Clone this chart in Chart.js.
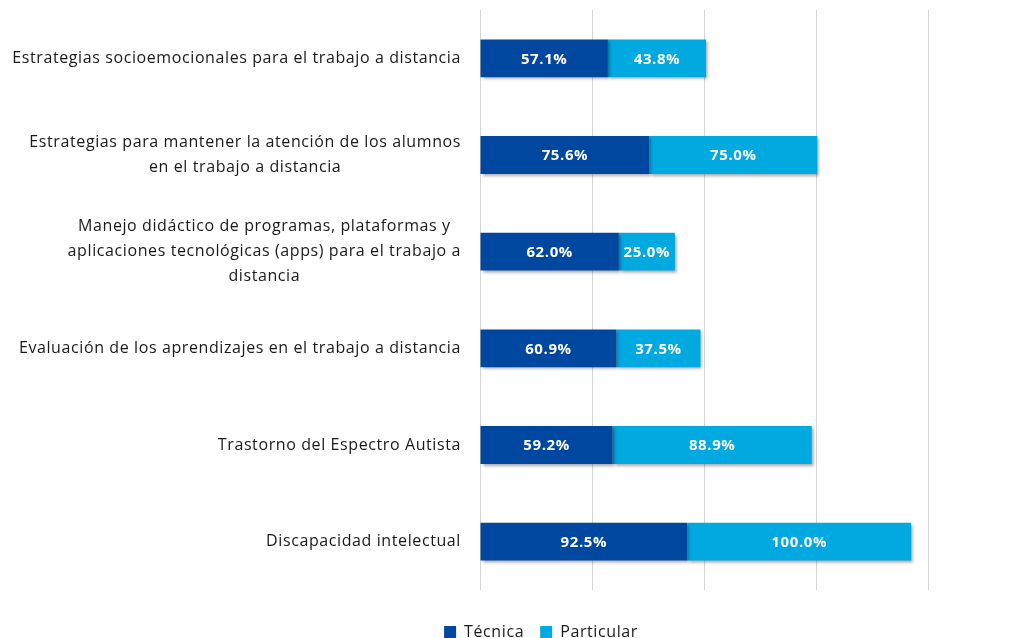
<!DOCTYPE html>
<html>
<head>
<meta charset="utf-8">
<script src="https://cdn.jsdelivr.net/npm/chart.js@4/dist/chart.umd.min.js"></script>
<style>
  body { margin: 0; background: #fff; }
  #wrap { width: 1031px; height: 638px; position: relative; }
</style>
</head>
<body>
<div id="wrap"><canvas id="myChart"></canvas></div>
<script>
// categories (multi-line labels)
var categories = [
    ['Estrategias socioemocionales para el trabajo a distancia'],
    ['Estrategias para mantener la atención de los alumnos', 'en el trabajo a distancia'],
    ['Manejo didáctico de programas, plataformas y', 'aplicaciones tecnológicas (apps) para el trabajo a', 'distancia'],
    ['Evaluación de los aprendizajes en el trabajo a distancia'],
    ['Trastorno del Espectro Autista'],
    ['Discapacidad intelectual']
];
var tecnica = [57.1, 75.6, 62.0, 60.9, 59.2, 92.5];
var particular = [43.8, 75.0, 25.0, 37.5, 88.9, 100.0];

var FONT = '"Open Sans", sans-serif';

// wider letter spacing for all canvas text
var spacing = {
    id: 'spacing',
    beforeLayout: function(chart) {
        chart.ctx.letterSpacing = '0.6px';
    },
    beforeDraw: function(chart) {
        chart.ctx.letterSpacing = '0.6px';
    }
};

// nudge legend down and right
var legendShift = {
    id: 'legendShift',
    afterLayout: function(chart) {
        var l = chart.legend;
        l.top += 18;
        l.bottom += 18;
        l.left += 77;
        l.right += 77;
    }
};

// bar shadow
var shadowPlugin = {
    id: 'barShadow',
    beforeDatasetDraw: function(chart) {
        var c = chart.ctx;
        c.save();
        c.shadowColor = 'rgba(0,0,0,0.35)';
        c.shadowBlur = 3;
        c.shadowOffsetX = 2;
        c.shadowOffsetY = 2;
    },
    afterDatasetDraw: function(chart) {
        chart.ctx.restore();
    }
};

// value labels inside bars
var valueLabels = {
    id: 'valueLabels',
    afterDatasetsDraw: function(chart) {
        var c = chart.ctx;
        c.save();
        c.font = 'bold 15px ' + FONT;
        c.fillStyle = '#fff';
        c.textAlign = 'center';
        c.textBaseline = 'middle';
        chart.data.datasets.forEach(function(ds, i) {
            chart.getDatasetMeta(i).data.forEach(function(bar, j) {
                var p = bar.getProps(['x', 'y', 'base'], true);
                c.fillText(ds.data[j].toFixed(1) + '%', (p.x + p.base) / 2, p.y + 1);
            });
        });
        c.restore();
    }
};

// category labels: block right-aligned, lines centred to each other
var catLabels = {
    id: 'catLabels',
    afterDraw: function(chart) {
        var c = chart.ctx;
        var y = chart.scales.y;
        var right = chart.chartArea.left - 19;
        var lh = 25;
        c.save();
        c.font = '16px ' + FONT;
        c.fillStyle = '#1a1a1a';
        c.textAlign = 'center';
        c.textBaseline = 'middle';
        categories.forEach(function(lines, i) {
            var w = Math.max.apply(null, lines.map(function(l) { return c.measureText(l).width; }));
            var cx = right - w / 2;
            var cy = y.getPixelForValue(i) - (lines.length - 1) * lh / 2;
            lines.forEach(function(l, k) {
                c.fillText(l, cx, cy + k * lh);
            });
        });
        c.restore();
    }
};

var ctx = document.getElementById('myChart').getContext('2d');
var chart = new Chart(ctx, {
    type: 'bar',
    data: {
        labels: categories,
        datasets: [{
            label: 'Técnica',
            data: tecnica,
            backgroundColor: '#0047A0',
            barPercentage: 0.8,
            categoryPercentage: 0.49
        }, {
            label: 'Particular',
            data: particular,
            backgroundColor: '#00A9E0',
            barPercentage: 0.8,
            categoryPercentage: 0.49
        }]
    },
    options: {
        indexAxis: 'y',
        responsive: true,
        maintainAspectRatio: false,
        animation: false,
        layout: { padding: { top: 10, right: 103, left: 0, bottom: 6 } },
        scales: {
            x: {
                stacked: true,
                min: 0,
                max: 200,
                ticks: { display: false, stepSize: 50 },
                grid: { color: '#d4d4d4', drawTicks: false },
                border: { display: false }
            },
            y: {
                stacked: true,
                grid: { display: false, drawTicks: false },
                border: { display: false },
                ticks: { display: false },
                afterFit: function(scale) { scale.width = 480; }
            }
        },
        plugins: {
            legend: {
                position: 'bottom',
                labels: {
                    boxWidth: 12,
                    boxHeight: 12,
                    padding: 16,
                    color: '#1a1a1a',
                    font: { family: FONT, size: 16 }
                }
            },
            tooltip: { enabled: false }
        }
    },
    plugins: [spacing, legendShift, shadowPlugin, valueLabels, catLabels]
});
</script>
</body>
</html>
